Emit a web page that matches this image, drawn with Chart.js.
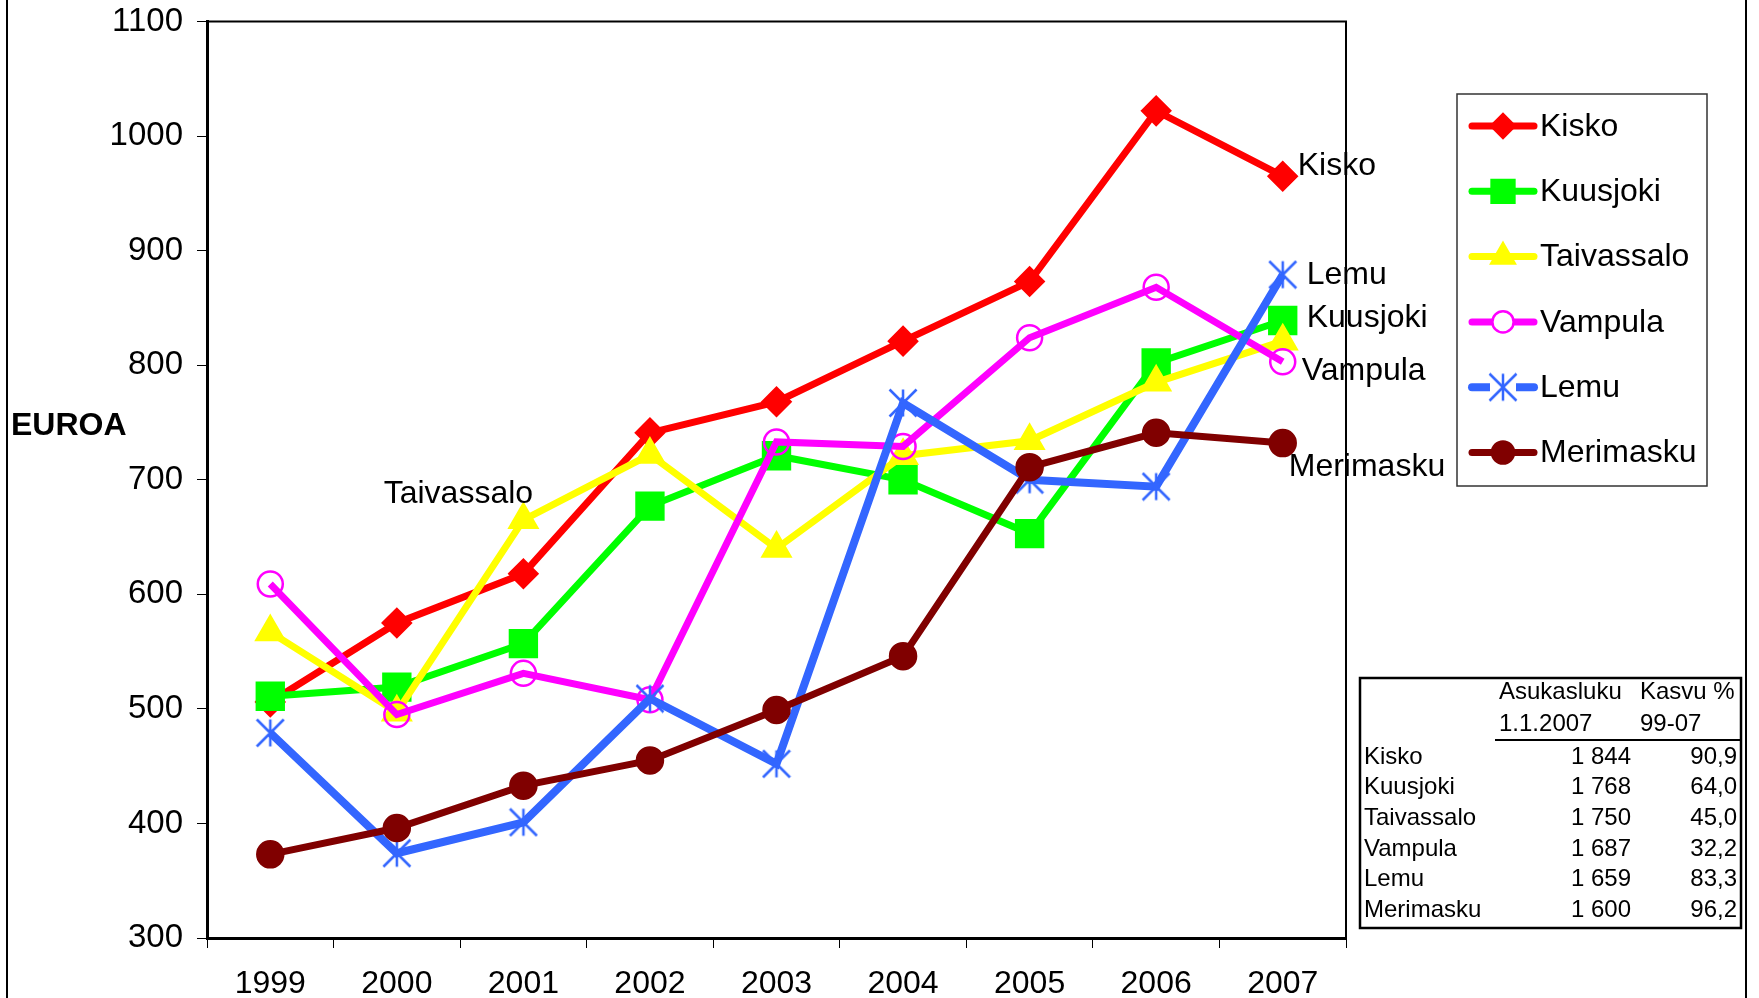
<!DOCTYPE html>
<html>
<head>
<meta charset="utf-8">
<script src="https://cdn.jsdelivr.net/npm/chart.js"></script>
<style>
  html, body { margin: 0; padding: 0; background: #fff; }
  #wrap { width: 1759px; height: 998px; position: relative; }
</style>
</head>
<body>
<div id="wrap"><canvas id="chart" width="1759" height="998"></canvas></div>
<script>
// vuodet ja sarjat
const years = ['1999', '2000', '2001', '2002', '2003', '2004', '2005', '2006', '2007'];
const kisko      = [506, 575, 618, 741, 768, 821, 873, 1022, 965];
const kuusjoki   = [511, 519, 557, 677, 721, 700, 653, 802, 839];
const taivassalo = [567, 497, 665, 722, 640, 721, 734, 785, 821];
const vampula    = [609, 495, 531, 508, 733, 729, 824, 868, 803];
const lemu       = [479, 374, 401, 509, 452, 767, 700, 694, 879];
const merimasku  = [373, 396, 433, 455, 499, 546, 711, 741, 732];
const yTicks = [300, 400, 500, 600, 700, 800, 900, 1000, 1100];

// taulukko
const tableHead1 = ['Asukasluku', 'Kasvu %'];
const tableHead2 = ['1.1.2007', '99-07'];
const tableNames = ['Kisko', 'Kuusjoki', 'Taivassalo', 'Vampula', 'Lemu', 'Merimasku'];
const tablePop = ['1 844', '1 768', '1 750', '1 687', '1 659', '1 600'];
const tableGrowth = ['90,9', '64,0', '45,0', '32,2', '83,3', '96,2'];

const FONT = '"Liberation Sans", Arial, sans-serif';

// Excelin tähti: pystyviiva + risti
function asterisk(color, size) {
    const c = document.createElement('canvas'); c.width = size; c.height = size;
    const g = c.getContext('2d'), h = size / 2, r = h - 1.5;
    g.strokeStyle = color; g.lineWidth = 2.5;
    g.beginPath();
    g.moveTo(h, h - r); g.lineTo(h, h + r);
    g.moveTo(h - r, h - r); g.lineTo(h + r, h + r);
    g.moveTo(h + r, h - r); g.lineTo(h - r, h + r);
    g.stroke();
    return c;
}

function series(label, data, color, style, radius, fill, width) {
    return {
        label, data,
        borderColor: color, backgroundColor: color, borderWidth: width || 7,
        pointStyle: style, pointRadius: radius, pointHoverRadius: radius,
        pointBackgroundColor: fill, pointBorderColor: color, pointBorderWidth: 2.5,
        tension: 0,
    };
}
const lemuStar = asterisk('#3366ff', 30);
const datasets = [
    series('Kisko', kisko, '#ff0000', 'rectRot', 14, '#ff0000'),
    series('Kuusjoki', kuusjoki, '#00ff00', 'rect', 19, '#00ff00'),
    series('Taivassalo', taivassalo, '#ffff00', 'triangle', 16, '#ffff00'),
    series('Vampula', vampula, '#ff00ff', 'circle', 12.5, 'rgba(0,0,0,0)'),
    series('Lemu', lemu, '#3366ff', lemuStar, 15, '#3366ff', 8),
    series('Merimasku', merimasku, '#800000', 'circle', 13, '#800000'),
];
// Excel: myöhempi sarja päällä
datasets.forEach((d, i) => d.order = datasets.length - i);

// sarjojen nimet kuvaajassa (sarja, piste, siirtymä)
const endLabels = [
    { ds: 0, idx: 8, dx: 15, dy: -10, align: 'left' },
    { ds: 4, idx: 8, dx: 24, dy: 0, align: 'left' },
    { ds: 1, idx: 8, dx: 24, dy: -2, align: 'left' },
    { ds: 3, idx: 8, dx: 19, dy: 9, align: 'left' },
    { ds: 5, idx: 8, dx: 6, dy: 24, align: 'left' },
    { ds: 2, idx: 2, dx: -65, dy: -26, align: 'center' },
];

function point(ctx, opts, x, y) {
    if (Chart.helpers && Chart.helpers.drawPoint) Chart.helpers.drawPoint(ctx, opts, x, y);
}

const decor = {
    id: 'decor',
    afterDraw(chart) {
        const ctx = chart.ctx, a = chart.chartArea;
        const xs = chart.scales.x, ys = chart.scales.y;
        ctx.save();
        // kehys
        ctx.strokeStyle = '#000'; ctx.lineWidth = 2;
        ctx.beginPath();
        ctx.moveTo(a.left, a.top); ctx.lineTo(a.right, a.top); ctx.lineTo(a.right, a.bottom);
        ctx.stroke();
        ctx.beginPath();
        ctx.moveTo(7, 0); ctx.lineTo(7, 998);
        ctx.moveTo(1746, 0); ctx.lineTo(1746, 998);
        ctx.stroke();

        // akselin otsikko
        ctx.fillStyle = '#000';
        ctx.font = 'bold 32px ' + FONT;
        ctx.textBaseline = 'middle'; ctx.textAlign = 'left';
        ctx.fillText('EUROA', 11, 426);

        // nimet
        ctx.font = '32px ' + FONT;
        endLabels.forEach(l => {
            const v = chart.data.datasets[l.ds];
            const x = xs.getPixelForValue(l.idx), y = ys.getPixelForValue(v.data[l.idx]);
            ctx.textAlign = l.align;
            ctx.fillText(v.label, x + l.dx, y + l.dy);
        });

        // selite
        ctx.lineWidth = 1.5; ctx.strokeStyle = '#333';
        ctx.strokeRect(1457, 94, 250, 392);
        chart.data.datasets.forEach((d, i) => {
            const cy = 126 + i * 65.3;
            ctx.strokeStyle = d.borderColor; ctx.lineWidth = d.borderWidth; ctx.lineCap = 'round';
            ctx.beginPath(); ctx.moveTo(1472, cy); ctx.lineTo(1534, cy); ctx.stroke();
            ctx.lineCap = 'butt';
            ctx.fillStyle = d.pointBackgroundColor; ctx.strokeStyle = d.borderColor; ctx.lineWidth = 2.5;
            if (d.label === 'Vampula') ctx.fillStyle = '#fff';
            if (d.label === 'Lemu') {
                ctx.fillStyle = '#fff';
                ctx.fillRect(1490, cy - 6, 26, 12);
            }
            point(ctx, { pointStyle: d.pointStyle, radius: d.pointRadius * 0.85, borderWidth: 2.5 }, 1503, cy);
            ctx.fillStyle = '#000'; ctx.textAlign = 'left';
            ctx.font = '32px ' + FONT;
            ctx.fillText(d.label, 1540, cy + 1);
        });

        // taulukko
        ctx.strokeStyle = '#000'; ctx.lineWidth = 2.5;
        ctx.strokeRect(1360, 678, 381, 250);
        ctx.lineWidth = 2;
        ctx.beginPath(); ctx.moveTo(1495, 740); ctx.lineTo(1741, 740); ctx.stroke();
        ctx.font = '24px ' + FONT; ctx.fillStyle = '#000';
        ctx.textAlign = 'left';
        ctx.fillText(tableHead1[0], 1499, 692);
        ctx.fillText(tableHead1[1], 1640, 692);
        ctx.fillText(tableHead2[0], 1499, 724);
        ctx.fillText(tableHead2[1], 1640, 724);
        tableNames.forEach((n, i) => {
            const y = 757 + i * 30.7;
            ctx.textAlign = 'left'; ctx.fillText(n, 1364, y);
            ctx.textAlign = 'right';
            ctx.fillText(tablePop[i], 1631, y);
            ctx.fillText(tableGrowth[i], 1737, y);
        });
        ctx.restore();
    }
};

const chart = new Chart(document.getElementById('chart'), {
    type: 'line',
    data: { labels: years, datasets },
    options: {
        responsive: false,
        animation: false,
        events: [],
        layout: { padding: { left: 0, right: 413, top: 20, bottom: 0 } },
        plugins: { legend: { display: false }, tooltip: { enabled: false }, title: { display: false } },
        scales: {
            x: {
                type: 'category', offset: true,
                afterFit(scale) { scale.height = 60; scale.paddingLeft = 0; scale.paddingRight = 0; },
                grid: { display: true, offset: true, drawOnChartArea: false, drawTicks: true, tickLength: 10, color: '#000', lineWidth: 1 },
                border: { display: true, color: '#000', width: 3 },
                ticks: { color: '#000', font: { family: FONT, size: 32 }, padding: 17, maxRotation: 0, autoSkip: false },
            },
            y: {
                min: 300, max: 1100,
                afterFit(scale) { scale.width = 207; scale.paddingTop = 0; scale.paddingBottom = 0; },
                afterBuildTicks(scale) { scale.ticks = yTicks.map(v => ({ value: v })); },
                grid: { display: true, drawOnChartArea: false, drawTicks: true, tickLength: 10, color: '#000', lineWidth: 1 },
                border: { display: true, color: '#000', width: 3 },
                ticks: { color: '#000', font: { family: FONT, size: 33 }, padding: 14, callback: v => String(v) },
            },
        },
    },
    plugins: [decor],
});
</script>
</body>
</html>
